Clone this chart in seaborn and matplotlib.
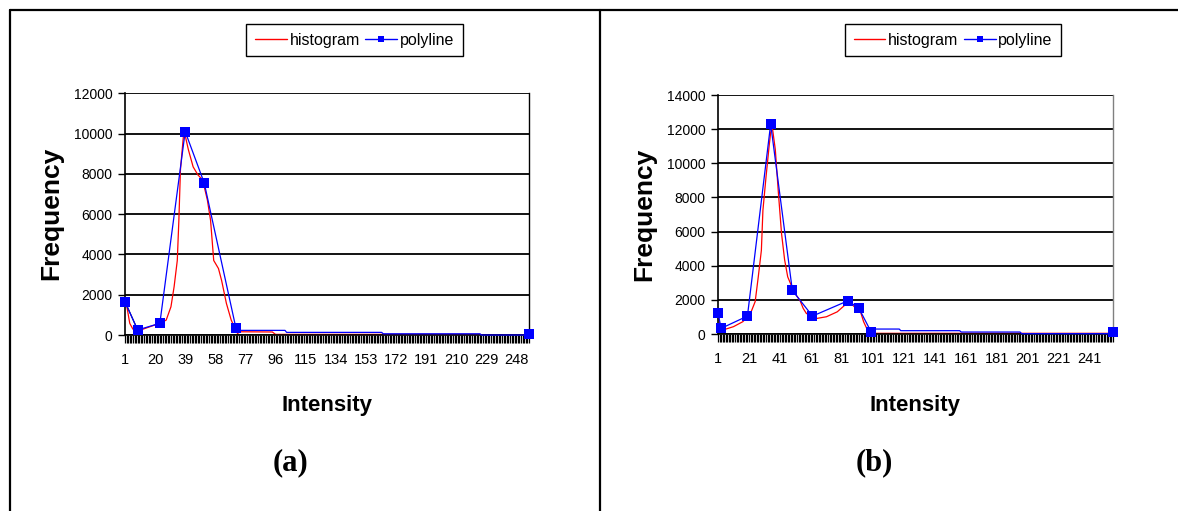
import numpy as np
import pandas as pd
import matplotlib
matplotlib.use("Agg")
import matplotlib.pyplot as plt
from matplotlib.lines import Line2D
import seaborn as sns

# ---------------- data ----------------
# Panel (a): histogram vertices (intensity, frequency)
hist_a_x = [1, 2, 4, 6, 11, 17, 23, 27, 30, 32, 34, 35, 36, 38, 39, 41, 44, 47, 50,
            53, 55, 57, 60, 62, 65, 68, 70, 72, 74, 94, 96, 225, 227, 256]
hist_a_y = [1650, 1490, 580, 290, 250, 420, 580, 740, 1400, 2400, 3700, 5700, 8200,
            10000, 9900, 9200, 8350, 7950, 7700, 6700, 5700, 3700, 3300, 2700, 1570,
            750, 400, 80, 160, 150, 30, 30, 0, 0]
# Panel (a): polyline vertices, with a flag for the vertices drawn with a marker
poly_a_x = [1, 9, 23, 39, 51, 71, 72, 102, 103, 163, 164, 225, 226, 255, 256]
poly_a_y = [1650, 250, 580, 10100, 7550, 350, 230, 230, 130, 130, 60, 60, 0, 0, 50]
poly_a_marked = [1, 1, 1, 1, 1, 1, 0, 0, 0, 0, 0, 0, 0, 0, 1]

# Panel (b)
hist_b_x = [1, 2, 4, 11, 17, 22, 25, 27, 29, 30, 32, 34, 35, 36, 38, 40, 42, 44, 46,
            50, 54, 56, 58, 64, 71, 78, 83, 86, 89, 93, 95, 97, 99, 100, 255, 256]
hist_b_y = [1250, 630, 230, 430, 720, 1210, 1900, 3350, 4900, 7250, 9200, 11000,
            11800, 12150, 10800, 8250, 5900, 4350, 3350, 2480, 1950, 1500, 1210, 900,
            1010, 1300, 1700, 1850, 1600, 1300, 720, 330, 40, 40, 40, 0]
poly_b_x = [1, 3, 20, 35, 49, 62, 85, 92, 100, 101, 118, 119, 157, 158, 196, 197, 255, 256]
poly_b_y = [1250, 330, 1050, 12300, 2550, 1050, 1950, 1500, 100, 290, 290, 195, 195,
            115, 115, 20, 20, 100]
poly_b_marked = [1, 1, 1, 1, 1, 1, 1, 1, 1, 0, 0, 0, 0, 0, 0, 0, 0, 1]

ticks_a = list(range(1, 257, 19))   # 1, 20, 39, ... 248
ticks_b = list(range(1, 257, 20))   # 1, 21, 41, ... 241
yticks_a = list(range(0, 12001, 2000))
yticks_b = list(range(0, 14001, 2000))

series_names = ["histogram", "polyline"]
panel_names = ["(a)", "(b)"]
x_title = "Intensity"
y_title = "Frequency"

# ---------------- styling ----------------
sns.set_style("white")
plt.rcParams["font.family"] = ["Liberation Sans", "DejaVu Sans"]
plt.rcParams["text.color"] = "black"
plt.rcParams["axes.labelcolor"] = "black"
plt.rcParams["xtick.color"] = "black"
plt.rcParams["ytick.color"] = "black"

W, H = 1178, 511
fig = plt.figure(figsize=(W / 100, H / 100), dpi=100)


def fx(px):
    return px / W


def fy(py):
    return 1 - py / H


def draw_panel(rect, hx, hy, px_, py_, marked, xt, yt, label_xy_y, label_xy_x,
               right_color, dark_first=False):
    ax = fig.add_axes(rect)
    dh = pd.DataFrame({"x": hx, "y": hy})
    dp = pd.DataFrame({"x": px_, "y": py_})
    sns.lineplot(data=dh, x="x", y="y", ax=ax, color="#FF0000", lw=0.9,
                 estimator=None, sort=False, legend=False)
    sns.lineplot(data=dp, x="x", y="y", ax=ax, color="#0000FF", lw=0.9,
                 estimator=None, sort=False, legend=False)
    pl = ax.lines[-1]
    pl.set_marker("s")
    pl.set_markersize(6.5)
    pl.set_markeredgewidth(0)
    pl.set_markerfacecolor("#0000FF")
    pl.set_markevery([i for i, m in enumerate(marked) if m])
    pl.set_clip_on(False)
    pl.set_zorder(3)
    if dark_first:
        sns.lineplot(x=px_[:2], y=py_[:2], ax=ax, color="black", lw=0.8,
                     estimator=None, sort=False, legend=False)
        ax.lines[-1].set_zorder(2.9)

    ax.set_xlim(1, 256)
    ax.set_ylim(yt[0], yt[-1])
    ax.set_xticks(xt)
    ax.set_xticklabels([str(t) for t in xt])
    ax.set_xticks(list(range(1, 257)), minor=True)
    ax.set_yticks(yt)
    ax.set_yticklabels([str(t) for t in yt])
    ax.tick_params(axis="x", which="both", direction="out", length=6, width=0.9,
                   color="black", labelcolor="black", bottom=True, pad=7,
                   labelsize=10.5)
    ax.tick_params(axis="y", which="major", direction="out", length=5, width=1,
                   color="black", labelcolor="black", left=True, pad=4,
                   labelsize=10)
    ax.yaxis.grid(True, color="black", lw=1.3)
    ax.xaxis.grid(False)
    ax.set_axisbelow(True)
    for s in ["left", "bottom"]:
        ax.spines[s].set_color("black")
        ax.spines[s].set_linewidth(1.2)
    ax.spines["top"].set_visible(False)
    ax.spines["right"].set_color(right_color)
    ax.spines["right"].set_linewidth(1.0)

    ax.set_xlabel(x_title, fontsize=16, fontweight="bold", color="black")
    ax.set_ylabel(y_title, fontsize=19, fontweight="bold", color="black")
    ax.xaxis.label.set_va("center")
    ax.yaxis.label.set_va("center")
    ax.xaxis.set_label_coords(*label_xy_x)
    ax.yaxis.set_label_coords(*label_xy_y)
    return ax


ax_a = draw_panel([fx(125), fy(335), fx(529) - fx(125), fy(93.3) - fy(335)],
                  hist_a_x, hist_a_y, poly_a_x, poly_a_y, poly_a_marked,
                  ticks_a, yticks_a,
                  ((51 - 125) / 404, (335 - 213) / 242.0),
                  ((327 - 125) / 404, (335 - 406) / 242.0),
                  "black", dark_first=True)
ax_b = draw_panel([fx(718), fy(334), fx(1113) - fx(718), fy(95) - fy(334)],
                  hist_b_x, hist_b_y, poly_b_x, poly_b_y, poly_b_marked,
                  ticks_b, yticks_b,
                  ((644 - 718) / 395, (334 - 214) / 239.0),
                  ((915 - 718) / 395, (334 - 406) / 239.0),
                  "#808080")

# legends
handles = [Line2D([], [], color="#FF0000", lw=1.0),
           Line2D([], [], color="#0000FF", lw=1.0, marker="s", markersize=5,
                  markeredgewidth=0)]
for ax, cx in [(ax_a, 354.5), (ax_b, 953)]:
    leg = ax.legend(handles, series_names, loc="center",
                    bbox_to_anchor=(fx(cx), fy(40)), bbox_transform=fig.transFigure,
                    ncol=2, frameon=True, fancybox=False, framealpha=1,
                    edgecolor="black", fontsize=11.5, handlelength=2.0,
                    handletextpad=0.15, columnspacing=0.35, borderpad=0.55,
                    borderaxespad=0, labelcolor="black")
    leg.get_frame().set_linewidth(1.0)

# panel captions
for name, cx in zip(panel_names, [291, 874]):
    fig.text(fx(cx), fy(463), name, ha="center", va="center", fontsize=22,
             fontweight="bold", color="black",
             family=["Liberation Serif", "DejaVu Serif"])

# table frame
frame_kw = dict(transform=fig.transFigure, color="black", lw=1.6)
fig.add_artist(Line2D([fx(9.5), 1], [fy(10), fy(10)], **frame_kw))
fig.add_artist(Line2D([fx(10), fx(10)], [0, fy(10)], **frame_kw))
fig.add_artist(Line2D([fx(600), fx(600)], [0, fy(10)], **frame_kw))

fig.savefig("out.png", dpi=100, facecolor="white")
